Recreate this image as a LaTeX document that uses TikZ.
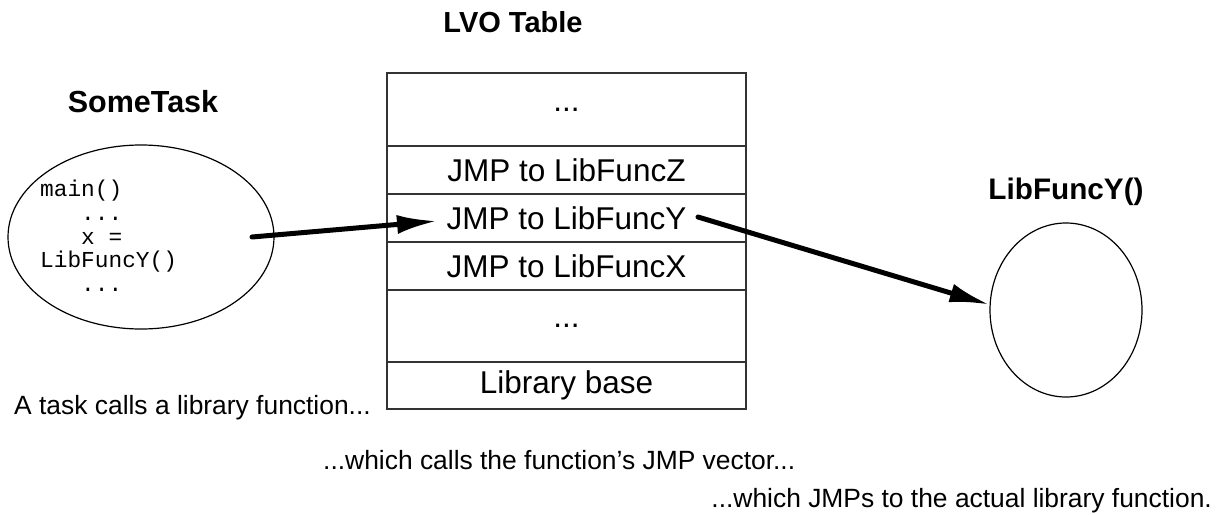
\documentclass[tikz,border=0pt]{standalone}
\usepackage{fontspec}
\setmainfont{Liberation Sans}
\setmonofont{Liberation Mono}
\usetikzlibrary{positioning,shapes.geometric,arrows.meta}

\begin{document}
\begin{tikzpicture}[x=1pt,y=-1pt,
  title/.style={font=\fontsize{29}{34}\selectfont\bfseries},
  caption/.style={font=\fontsize{26.4}{30}\selectfont,inner sep=0},
  cell/.style={draw=black!80,line width=1.5pt,minimum width=359pt,inner sep=0,
    font=\fontsize{31.5}{36}\selectfont},
  blob/.style={draw,ellipse,line width=1.2pt,inner sep=0},
  call/.style={line width=5pt,line cap=round,-{Latex[length=40pt,width=19pt]}}]
\useasboundingbox (0,0) rectangle (1225,514);

\def\xt{566.5}

% titles
\node[title] (lvo) at (513,22) {LVO Table};
\node[title,font=\fontsize{30.5}{34}\selectfont\bfseries] (sometask) at (143,102) {SomeTask};
\node[title,font=\fontsize{29.7}{34}\selectfont\bfseries] (libfunc) at (1066,192) {LibFuncY()};

% the task
\node[blob,minimum width=266pt,minimum height=184pt] (task) at (141,237) {};
\node[anchor=north west,inner sep=0,align=left,
  font=\fontsize{22.8}{23.7}\selectfont\ttfamily] (code) at (40,180)
  {main()\\\ \ \ ...\\\ \ \ x =\\LibFuncY()\\\ \ \ ...};

% LVO table
\node[cell,minimum height=73pt] (r1) at (\xt,109.5) {...};
\node[cell,minimum height=48pt] (r2) at (\xt,170) {JMP to LibFuncZ};
\node[cell,minimum height=48pt] (r3) at (\xt,218) {JMP to LibFuncY};
\node[cell,minimum height=48pt] (r4) at (\xt,266) {JMP to LibFuncX};
\node[cell,minimum height=72pt] (r5) at (\xt,326) {...};
\node[cell,minimum height=47pt] (r6) at (\xt,385.5) {Library base};

% the library function
\node[blob,minimum width=152pt,minimum height=174pt] (funcy) at (1066,310) {};

\coordinate (callsite) at (252,237);
\coordinate (ytip) at (437,221);
\coordinate (yfrom) at (698,217);
\draw[call] (callsite) -- (ytip);
\draw[call] (yfrom) -- (funcy.176);

% captions
\node[caption,anchor=base west] (cap1) at (14,414) {A task calls a library function...};
\node[caption,anchor=base west] (cap2) at (323,469) {...which calls the function's JMP vector...};
\node[caption,anchor=base east] (cap3) at (1212,507) {...which JMPs to the actual library function.};
\end{tikzpicture}
\end{document}
